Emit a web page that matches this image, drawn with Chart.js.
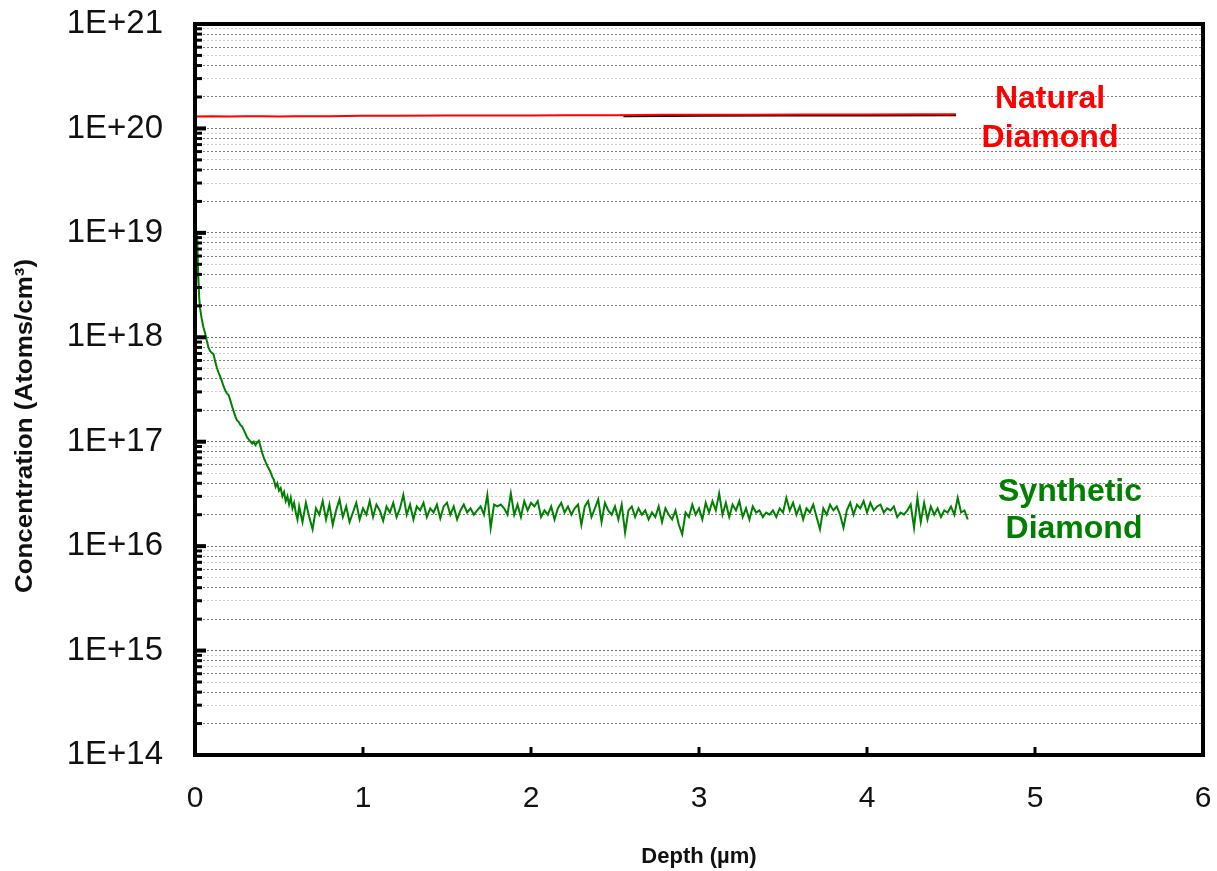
<!DOCTYPE html>
<html>
<head>
<meta charset="utf-8">
<script src="https://cdn.jsdelivr.net/npm/chart.js@4.4.1/dist/chart.umd.min.js"></script>
<style>
  html, body { margin: 0; padding: 0; background: #fff; }
  #wrap { width: 1217px; height: 871px; position: relative; }
</style>
</head>
<body>
<div id="wrap"><canvas id="sims"></canvas></div>
<script>
// --- data ---
const xTicks = [0, 1, 2, 3, 4, 5, 6];
const yMajor = [1e14, 1e15, 1e16, 1e17, 1e18, 1e19, 1e20, 1e21];
const yTickLabels = ['1E+14', '1E+15', '1E+16', '1E+17', '1E+18', '1E+19', '1E+20', '1E+21'];
const yMinorSteps = [2, 3, 4, 5, 6, 7, 8, 9];

// natural diamond (red) and the dark trace just under it
const depthNatural = [0, 0.1, 0.2, 0.3, 0.4, 0.5, 0.6, 0.8, 1.0, 1.2, 1.5, 1.8, 2.0, 2.2, 2.5, 2.8, 3.0, 3.3, 3.6, 4.0, 4.3, 4.53];
const concNatural = [1.30e20, 1.31e20, 1.30e20, 1.31e20, 1.31e20, 1.30e20, 1.31e20, 1.31e20, 1.32e20, 1.32e20, 1.33e20, 1.33e20, 1.33e20, 1.34e20, 1.34e20, 1.35e20, 1.35e20, 1.35e20, 1.36e20, 1.36e20, 1.37e20, 1.37e20];
const depthShadow = [2.55, 3.0, 3.5, 4.0, 4.53];
const concShadow = [1.31e20, 1.32e20, 1.33e20, 1.33e20, 1.34e20];

// synthetic diamond (green): surface decay then noisy plateau
const depthSynthetic = [
  0.004, 0.008, 0.012, 0.018, 0.025, 0.03, 0.04, 0.05, 0.06, 0.07, 0.08,
  0.09, 0.10, 0.11, 0.12, 0.13, 0.14, 0.15, 0.16, 0.17, 0.18,
  0.19, 0.20, 0.21, 0.22, 0.23, 0.24, 0.25, 0.26, 0.27, 0.28,
  0.29, 0.30, 0.31, 0.32, 0.33, 0.34, 0.35, 0.36, 0.37, 0.38,
  0.39, 0.40, 0.41, 0.42, 0.43, 0.44, 0.45, 0.46, 0.47, 0.48,
  0.49, 0.50, 0.51, 0.52, 0.53, 0.54, 0.55, 0.56, 0.57, 0.58,
  0.59, 0.60, 0.61,
  0.62, 0.64, 0.66, 0.68, 0.70, 0.72, 0.74, 0.76, 0.78, 0.80,
  0.82, 0.84, 0.86, 0.88, 0.90, 0.92, 0.94, 0.96, 0.98, 1.00,
  1.02, 1.04, 1.06, 1.08, 1.10, 1.12, 1.14, 1.16, 1.18, 1.20,
  1.22, 1.24, 1.26, 1.28, 1.30, 1.32, 1.34, 1.36, 1.38, 1.40,
  1.42, 1.44, 1.46, 1.48, 1.50, 1.52, 1.54, 1.56, 1.58, 1.60,
  1.62, 1.64, 1.66, 1.68, 1.70, 1.72, 1.74, 1.76, 1.78, 1.80,
  1.82, 1.84, 1.86, 1.88, 1.90, 1.92, 1.94, 1.96, 1.98, 2.00,
  2.02, 2.04, 2.06, 2.08, 2.10, 2.12, 2.14, 2.16, 2.18, 2.20,
  2.22, 2.24, 2.26, 2.28, 2.30, 2.32, 2.34, 2.36, 2.38, 2.40,
  2.42, 2.44, 2.46, 2.48, 2.50, 2.52, 2.54, 2.56, 2.58, 2.60,
  2.62, 2.64, 2.66, 2.68, 2.70, 2.72, 2.74, 2.76, 2.78, 2.80,
  2.82, 2.84, 2.86, 2.88, 2.90, 2.92, 2.94, 2.96, 2.98, 3.00,
  3.02, 3.04, 3.06, 3.08, 3.10, 3.12, 3.14, 3.16, 3.18, 3.20,
  3.22, 3.24, 3.26, 3.28, 3.30, 3.32, 3.34, 3.36, 3.38, 3.40,
  3.42, 3.44, 3.46, 3.48, 3.50, 3.52, 3.54, 3.56, 3.58, 3.60,
  3.62, 3.64, 3.66, 3.68, 3.70, 3.72, 3.74, 3.76, 3.78, 3.80,
  3.82, 3.84, 3.86, 3.88, 3.90, 3.92, 3.94, 3.96, 3.98, 4.00,
  4.02, 4.04, 4.06, 4.08, 4.10, 4.12, 4.14, 4.16, 4.18, 4.20,
  4.22, 4.24, 4.26, 4.28, 4.30, 4.32, 4.34, 4.36, 4.38, 4.40,
  4.42, 4.44, 4.46, 4.48, 4.50, 4.52, 4.54, 4.56, 4.58, 4.60
];
const concSynthetic = [
  2.1e18, 4.0e18, 1.0e19, 4.5e18, 2.4e18, 1.9e18, 1.5e18, 1.25e18, 1.1e18, 9.3e17, 8.0e17,
  7.4e17, 7.1e17, 6.9e17, 5.9e17, 5.1e17, 4.6e17, 4.2e17, 3.8e17, 3.4e17, 3.1e17,
  2.9e17, 2.8e17, 2.5e17, 2.2e17, 1.95e17, 1.75e17, 1.6e17, 1.55e17, 1.45e17, 1.4e17,
  1.3e17, 1.2e17, 1.1e17, 1.05e17, 1.0e17, 9.6e16, 1.0e17, 9.3e16, 9.8e16, 1.02e17,
  9.0e16, 7.8e16, 7.0e16, 6.4e16, 5.9e16, 5.5e16, 5.1e16, 4.6e16, 4.3e16, 3.7e16,
  4.0e16, 3.4e16, 3.6e16, 3.0e16, 3.3e16, 2.7e16, 3.0e16, 2.5e16, 2.9e16, 2.3e16,
  2.6e16, 2.1e16, 1.8e16,
  2.4e16, 1.7e16, 2.6e16, 1.9e16, 1.45e16, 2.3e16, 2.0e16, 2.7e16, 1.8e16, 2.5e16,
  1.6e16, 2.2e16, 2.8e16, 1.9e16, 2.4e16, 1.7e16, 2.1e16, 2.6e16, 1.8e16, 2.3e16,
  2.0e16, 2.7e16, 1.9e16, 2.5e16, 2.2e16, 1.75e16, 2.4e16, 2.1e16, 2.6e16, 1.9e16,
  2.3e16, 3.1e16, 2.0e16, 2.5e16, 1.8e16, 2.4e16, 2.2e16, 2.6e16, 1.9e16, 2.3e16,
  2.1e16, 2.5e16, 1.85e16, 2.4e16, 2.6e16, 2.0e16, 2.4e16, 1.8e16, 2.2e16, 2.5e16,
  2.1e16, 2.3e16, 2.0e16, 2.2e16, 2.4e16, 2.0e16, 3.1e16, 1.5e16, 2.5e16, 2.4e16,
  2.5e16, 2.3e16, 2.0e16, 3.2e16, 2.0e16, 2.5e16, 1.9e16, 2.7e16, 2.2e16, 2.6e16,
  2.4e16, 2.7e16, 1.9e16, 2.2e16, 2.0e16, 2.4e16, 1.8e16, 2.3e16, 2.6e16, 2.1e16,
  2.4e16, 2.0e16, 2.3e16, 2.5e16, 1.6e16, 2.4e16, 2.7e16, 1.9e16, 2.3e16, 2.8e16,
  1.7e16, 2.6e16, 2.2e16, 2.0e16, 2.4e16, 1.8e16, 2.5e16, 1.35e16, 2.2e16, 2.4e16,
  1.9e16, 2.3e16, 2.0e16, 2.2e16, 1.8e16, 2.1e16, 1.9e16, 2.4e16, 1.7e16, 2.3e16,
  2.0e16, 1.8e16, 2.2e16, 1.6e16, 1.3e16, 2.1e16, 1.9e16, 2.5e16, 2.0e16, 2.3e16,
  1.8e16, 2.6e16, 2.1e16, 2.7e16, 2.2e16, 3.2e16, 2.0e16, 2.6e16, 1.9e16, 2.5e16,
  2.2e16, 2.7e16, 1.9e16, 2.3e16, 1.8e16, 2.4e16, 2.1e16, 2.2e16, 1.9e16, 2.1e16,
  2.0e16, 2.2e16, 1.9e16, 2.3e16, 2.1e16, 2.9e16, 2.2e16, 2.6e16, 2.0e16, 2.4e16,
  1.8e16, 2.3e16, 2.1e16, 2.5e16, 1.9e16, 1.45e16, 2.3e16, 2.0e16, 2.5e16, 2.2e16,
  2.4e16, 2.0e16, 1.5e16, 2.2e16, 2.6e16, 2.0e16, 2.5e16, 2.3e16, 2.7e16, 2.1e16,
  2.6e16, 2.2e16, 2.4e16, 2.5e16, 2.1e16, 2.3e16, 2.2e16, 2.4e16, 1.9e16, 2.1e16,
  2.0e16, 2.2e16, 2.5e16, 1.5e16, 2.9e16, 1.7e16, 2.6e16, 1.8e16, 2.4e16, 2.0e16,
  2.3e16, 1.9e16, 2.2e16, 2.1e16, 2.4e16, 2.0e16, 2.9e16, 2.1e16, 2.2e16, 1.8e16
];

const FONT = 'Arial, "Liberation Sans", Helvetica, sans-serif';
const RED = '#ff0000';
const GREEN = '#008000';

function toPoints(xs, ys) {
  return xs.map((x, i) => ({ x: x, y: ys[i] }));
}

function majorIndex(v) {
  return yMajor.findIndex(m => Math.abs(m - v) / m < 1e-6);
}

// every decade gets ticks at 1..9 x 10^n
const yTickValues = [];
yMajor.forEach((m, i) => {
  yTickValues.push(m);
  if (i < yMajor.length - 1) yMinorSteps.forEach(k => yTickValues.push(k * m));
});

// stop the scales from pushing the plot area around for label overhang
function noOverhang(s) {
  s.paddingTop = 0;
  s.paddingBottom = 0;
  s.paddingLeft = 0;
  s.paddingRight = 0;
}

// frame, inward tick marks, axis titles and the two curve labels
const framePlugin = {
  id: 'frame',
  afterDraw(chart) {
    const c = chart.ctx;
    const a = chart.chartArea;
    const xs = chart.scales.x, ys = chart.scales.y;
    c.save();
    c.strokeStyle = '#000';
    c.lineCap = 'butt';
    yTickValues.forEach(v => {
      const py = ys.getPixelForValue(v);
      const major = majorIndex(v) >= 0;
      c.lineWidth = major ? 4 : 3;
      c.beginPath();
      c.moveTo(a.left, py);
      c.lineTo(a.left + (major ? 11 : 7), py);
      c.stroke();
    });
    c.lineWidth = 3;
    xTicks.forEach(v => {
      const px = xs.getPixelForValue(v);
      c.beginPath();
      c.moveTo(px, a.bottom);
      c.lineTo(px, a.bottom - 8);
      c.stroke();
    });
    c.lineWidth = 4;
    c.strokeRect(a.left, a.top, a.right - a.left, a.bottom - a.top);

    c.fillStyle = '#111';
    c.textAlign = 'center';
    c.textBaseline = 'middle';
    c.font = 'bold 22px ' + FONT;
    c.fillText('Depth (µm)', (a.left + a.right) / 2, 857);
    c.save();
    c.translate(25, 426);
    c.rotate(-Math.PI / 2);
    c.scale(1.08, 1);
    c.font = 'bold 24px ' + FONT;
    c.fillText('Concentration (Atoms/cm³)', 0, 0);
    c.restore();

    c.textBaseline = 'alphabetic';
    c.font = 'bold 32px ' + FONT;
    c.fillStyle = RED;
    c.fillText('Natural', 1050, 108);
    c.fillText('Diamond', 1050, 147);
    c.fillStyle = GREEN;
    c.fillText('Synthetic', 1070, 501);
    c.fillText('Diamond', 1074, 538);
    c.restore();
  }
};

const ctx = document.getElementById('sims').getContext('2d');
let chart = new Chart(ctx, {
  type: 'line',
  data: {
    datasets: [
      {
        label: 'Synthetic Diamond',
        data: toPoints(depthSynthetic, concSynthetic),
        borderColor: GREEN,
        borderWidth: 2,
        pointRadius: 0,
        tension: 0,
        order: 3
      },
      {
        label: 'Natural trace',
        data: toPoints(depthShadow, concShadow),
        borderColor: '#000',
        borderWidth: 2,
        pointRadius: 0,
        tension: 0,
        order: 2
      },
      {
        label: 'Natural Diamond',
        data: toPoints(depthNatural, concNatural),
        borderColor: RED,
        borderWidth: 2,
        pointRadius: 0,
        tension: 0,
        order: 1
      }
    ]
  },
  options: {
    responsive: true,
    maintainAspectRatio: false,
    animation: false,
    devicePixelRatio: 1,
    layout: { padding: { left: 0, right: 14, top: 24, bottom: 0 } },
    plugins: {
      legend: { display: false },
      tooltip: { enabled: false }
    },
    scales: {
      x: {
        type: 'linear',
        min: 0,
        max: 6,
        afterFit: s => { s.height = 116; noOverhang(s); },
        afterBuildTicks: s => { s.ticks = xTicks.map(v => ({ value: v })); },
        ticks: {
          color: '#111',
          padding: 18,
          font: { family: FONT, size: 30 },
          maxRotation: 0,
          autoSkip: false
        },
        grid: { display: false },
        border: { display: false }
      },
      y: {
        type: 'logarithmic',
        min: 1e14,
        max: 1e21,
        afterFit: s => { s.width = 195; noOverhang(s); },
        afterBuildTicks: s => { s.ticks = yTickValues.map(v => ({ value: v, major: majorIndex(v) >= 0 })); },
        ticks: {
          color: '#111',
          padding: 32,
          autoSkip: false,
          font: { family: FONT, size: 33 },
          callback: v => {
            const i = majorIndex(v);
            return i >= 0 ? yTickLabels[i] : '';
          }
        },
        grid: {
          drawTicks: false,
          lineWidth: 1,
          color: c => {
            const v = c.tick.value;
            const i = majorIndex(v);
            if (i >= 0) return 'rgba(0,0,0,0.55)';
            const k = Math.round(v / Math.pow(10, Math.floor(Math.log10(v) + 1e-9)));
            return k % 2 === 0 ? 'rgba(0,0,0,0.5)' : 'rgba(0,0,0,0.2)';
          }
        },
        border: { display: false, dash: [2, 2] }
      }
    }
  },
  plugins: [framePlugin]
});
</script>
</body>
</html>
